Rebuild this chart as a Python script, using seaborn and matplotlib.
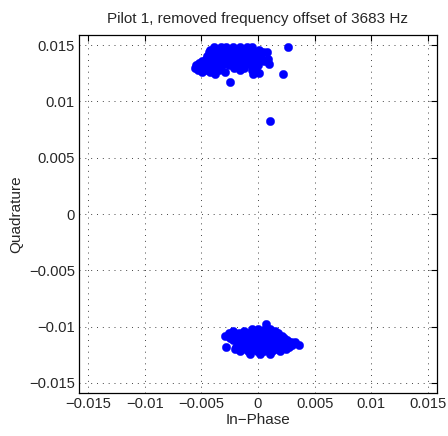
import numpy as np
import pandas as pd
import matplotlib
matplotlib.use("Agg")
import matplotlib.pyplot as plt
import seaborn as sns

# Upper cluster (values in units of 1e-3)
upper_i = [
    -3.9, -3.3, -2.8, -2.2, -1.6, -1.0, -0.5,
    -4.2, -3.7, -3.0, -2.5, -1.9, -1.3, -0.8, 0.1,
    -4.3, -3.9, -3.4, -2.7, -2.1, -1.5, -0.9, -0.3, 0.4,
    -4.2, -3.6, -3.1, -2.4, -1.8, -1.2, -0.6, 0.0,
    -4.5, -3.9, -3.3, -2.8, -2.2, -1.6, -1.0, -0.4, 0.3,
    -4.6, -3.7, -3.0, -2.5, -1.9, -1.3, -0.7, -0.1,
    -4.9, -4.1, -3.4, -2.7, -2.0, -1.5, -0.9, -0.2, 0.5,
    -5.2, -4.3, -3.6, -2.9, -2.3, -1.7, -1.1, -0.4,
    -5.5, -4.6, -3.9, -3.2, -2.6, -1.9, -1.4, -0.6, 0.0,
    -5.6, -5.0, -4.3, -3.6, -2.1, -1.2, -0.3,
    -5.3, -4.6, -4.0, -3.4, -1.6, -0.5,
    -4.9, -4.2, -2.9, -0.1,
    -3.8,
    -2.5, 2.65, 2.2, 0.8, 1.0, 0.9, -0.4, 0.1, 1.1,
]
upper_q = [
    14.8, 14.8, 14.8, 14.8, 14.8, 14.8, 14.8,
    14.6, 14.6, 14.6, 14.6, 14.6, 14.6, 14.6, 14.6,
    14.4, 14.4, 14.4, 14.4, 14.4, 14.4, 14.4, 14.4, 14.4,
    14.2, 14.2, 14.2, 14.2, 14.2, 14.2, 14.2, 14.2,
    14.0, 14.0, 14.0, 14.0, 14.0, 14.0, 14.0, 14.0, 14.0,
    13.8, 13.8, 13.8, 13.8, 13.8, 13.8, 13.8, 13.8,
    13.6, 13.6, 13.6, 13.6, 13.6, 13.6, 13.6, 13.6, 13.6,
    13.4, 13.4, 13.4, 13.4, 13.4, 13.4, 13.4, 13.4,
    13.2, 13.2, 13.2, 13.2, 13.2, 13.2, 13.2, 13.2, 13.2,
    13.0, 13.0, 13.0, 13.0, 13.0, 13.0, 13.0,
    12.8, 12.8, 12.8, 12.8, 12.8, 12.8,
    12.6, 12.6, 12.6, 12.6,
    12.4,
    11.7, 14.8, 12.4, 14.4, 13.3, 13.8, 12.4, 12.5, 8.25,
]

# Lower cluster (values in units of 1e-3)
lower_i = [
    -0.5, 0.0, 0.6, 1.1,
    -2.2, -1.2, -0.3, 0.3, 0.9, 1.5,
    -2.6, -1.7, -0.8, -0.1, 0.5, 1.2, 1.8,
    -2.9, -2.1, -1.4, -0.6, 0.1, 0.7, 1.4, 2.1,
    -2.5, -1.6, -0.9, -0.3, 0.3, 0.9, 1.6, 2.3,
    -2.2, -1.3, -0.6, 0.0, 0.5, 1.1, 1.8, 2.6,
    -1.8, -1.1, -0.4, 0.2, 0.8, 1.4, 2.0, 2.9, 3.3,
    -1.5, -0.8, -0.2, 0.4, 1.0, 1.6, 2.3, 3.0, 3.6,
    -2.8, -1.9, -1.2, -0.5, 0.1, 0.7, 1.3, 2.0, 2.7,
    -2.0, -1.4, -0.8, -0.2, 0.4, 1.0, 1.6, 2.5,
    -1.6, -0.9, -0.1, 0.5, 1.2, 1.9,
    -0.7, 0.2, 1.1,
    0.7,
]
lower_q = [
    -10.2, -10.2, -10.2, -10.2,
    -10.4, -10.4, -10.4, -10.4, -10.4, -10.4,
    -10.6, -10.6, -10.6, -10.6, -10.6, -10.6, -10.6,
    -10.8, -10.8, -10.8, -10.8, -10.8, -10.8, -10.8, -10.8,
    -11.0, -11.0, -11.0, -11.0, -11.0, -11.0, -11.0, -11.0,
    -11.2, -11.2, -11.2, -11.2, -11.2, -11.2, -11.2, -11.2,
    -11.4, -11.4, -11.4, -11.4, -11.4, -11.4, -11.4, -11.4, -11.4,
    -11.6, -11.6, -11.6, -11.6, -11.6, -11.6, -11.6, -11.6, -11.6,
    -11.8, -11.8, -11.8, -11.8, -11.8, -11.8, -11.8, -11.8, -11.8,
    -12.0, -12.0, -12.0, -12.0, -12.0, -12.0, -12.0, -12.0,
    -12.2, -12.2, -12.2, -12.2, -12.2, -12.2,
    -12.4, -12.4, -12.4,
    -9.75,
]

ticks = [-0.015, -0.01, -0.005, 0, 0.005, 0.01, 0.015]
tick_labels = ["\u22120.015", "\u22120.01", "\u22120.005", "0", "0.005", "0.01", "0.015"]
title = "Pilot 1, removed frequency offset of 3683 Hz"

df = pd.DataFrame({
    "I": np.array(upper_i + lower_i) * 1e-3,
    "Q": np.array(upper_q + lower_q) * 1e-3,
})

sns.set_style("white")
plt.rcParams["font.family"] = ["Liberation Sans", "DejaVu Sans"]

fig = plt.figure(figsize=(4.48, 4.36), dpi=100)
ax = fig.add_axes([0.1763, 0.0986, 0.7991, 0.8211])
sns.scatterplot(data=df, x="I", y="Q", ax=ax, color=(0, 0, 1), s=36,
                edgecolor=(0, 0, 1), linewidth=0.3, zorder=3)

ax.set_xlim(-0.0158, 0.0158)
ax.set_ylim(-0.0159, 0.0159)
ax.set_xticks(ticks)
ax.set_xticklabels(tick_labels)
ax.set_yticks(ticks)
ax.set_yticklabels(tick_labels)
ax.grid(True, color="#444444", linestyle=(0, (1, 5)), linewidth=0.7)
ax.tick_params(direction="in", top=True, right=True, length=4, width=0.8,
               labelsize=10.6, color="black", pad=3)
for sp in ax.spines.values():
    sp.set_color("black")
    sp.set_linewidth(0.9)
ax.set_xlabel("In\u2212Phase", fontsize=11, labelpad=1)
ax.set_ylabel("Quadrature", fontsize=11, labelpad=4)
ax.set_title(title, fontsize=11, pad=9)

fig.savefig("out.png", dpi=100)
